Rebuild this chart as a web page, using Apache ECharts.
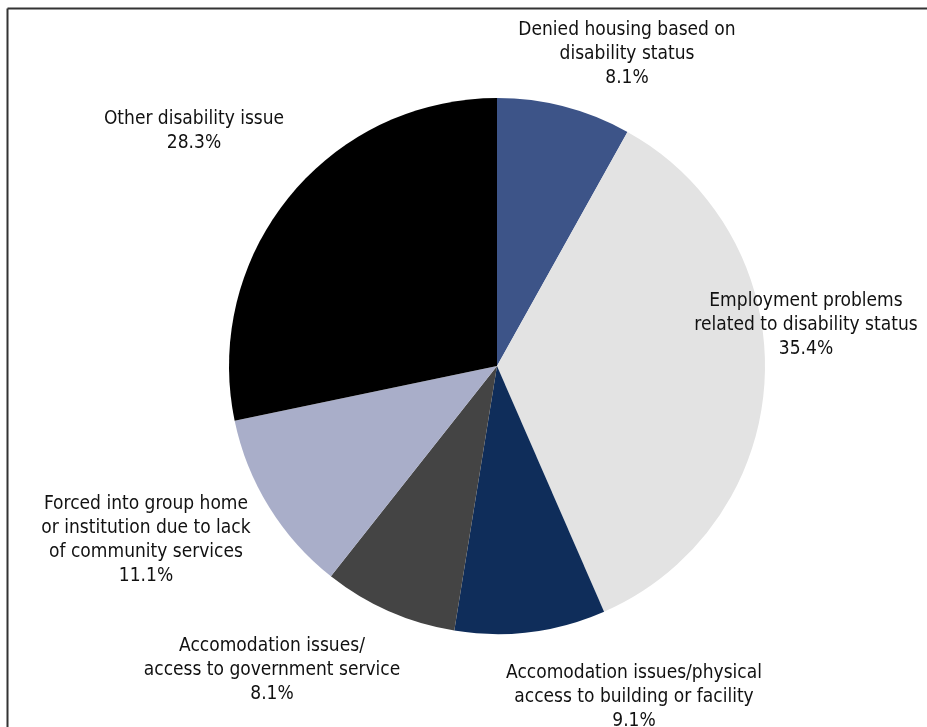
<!DOCTYPE html>
<html>
<head>
<meta charset="utf-8">
<script src="https://cdn.jsdelivr.net/npm/echarts@6/dist/echarts.min.js"></script>
<style>
html,body{margin:0;padding:0;background:#fff;}
#chart{width:927px;height:727px;}
</style>
</head>
<body>
<div id="chart"></div>
<script>
const categories = [
  "Denied housing based on\ndisability status",
  "Employment problems\nrelated to disability status",
  "Accomodation issues/physical\naccess to building or facility",
  "Accomodation issues/\naccess to government service",
  "Forced into group home\nor institution due to lack\nof community services",
  "Other disability issue"
];
const values = [8.1, 35.4, 9.1, 8.1, 11.1, 28.3];
const colors = ["#3d5488", "#e3e3e3", "#0f2d5a", "#444444", "#a9aec9", "#000000"];
// label anchor (center x, top y) for each slice label
const labelPos = [[627, 18], [806, 289], [634, 661], [272, 634], [146, 492], [194, 107]];

const chart = echarts.init(document.getElementById('chart'));
chart.setOption({
  animation: false,
  graphic: [
    {type: 'line', shape: {x1: 7.5, y1: 8.5, x2: 927, y2: 8.5}, style: {stroke: '#333', lineWidth: 2}},
    {type: 'line', shape: {x1: 7.5, y1: 8.5, x2: 7.5, y2: 727}, style: {stroke: '#333', lineWidth: 2}}
  ],
  series: [{
    type: 'pie',
    center: [497, 366],
    radius: [0, 268],
    startAngle: 90,
    clockwise: true,
    avoidLabelOverlap: false,
    itemStyle: {borderWidth: 0},
    label: {
      show: true,
      position: 'outside',
      formatter: p => p.name + '\n' + p.value.toFixed(1) + '%',
      fontFamily: '"Liberation Sans Narrow", "DejaVu Sans Condensed", sans-serif',
      fontSize: 19,
      lineHeight: 24,
      color: '#111',
      align: 'center'
    },
    labelLine: {show: false},
    labelLayout: function (params) {
      const p = labelPos[params.dataIndex];
      return {x: p[0], y: p[1], align: 'center', verticalAlign: 'top'};
    },
    emphasis: {disabled: true},
    data: categories.map((c, i) => ({name: c, value: values[i], itemStyle: {color: colors[i]}}))
  }]
});
</script>
</body>
</html>
